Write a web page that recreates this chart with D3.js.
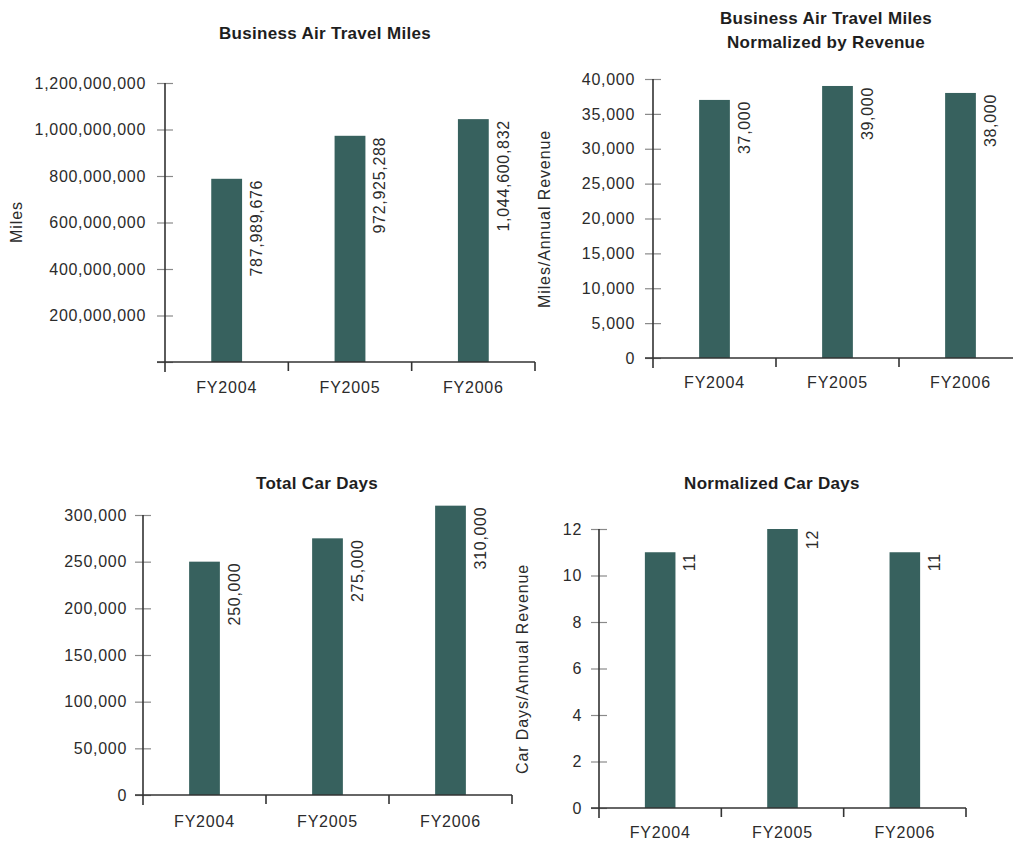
<!DOCTYPE html>
<html><head><meta charset="utf-8">
<script src="https://cdn.jsdelivr.net/npm/d3@7"></script>
<style>
body{margin:0;background:#fff;}
svg text{font-family:"Liberation Sans",Arial,Helvetica,sans-serif;fill:#2b2b2b;}
</style></head><body>
<svg id="chart" width="1013" height="841"></svg>
<script>
// ---- data ----
const categories = ["FY2004", "FY2005", "FY2006"];
const airMiles = [787989676, 972925288, 1044600832];
const airMilesPerRevenue = [37000, 39000, 38000];
const carDays = [250000, 275000, 310000];
const carDaysPerRevenue = [11, 12, 11];

const airMilesTicks = [0, 200000000, 400000000, 600000000, 800000000, 1000000000, 1200000000];
const airMilesPerRevenueTicks = [0, 5000, 10000, 15000, 20000, 25000, 30000, 35000, 40000];
const carDaysTicks = [0, 50000, 100000, 150000, 200000, 250000, 300000];
const carDaysPerRevenueTicks = [0, 2, 4, 6, 8, 10, 12];

const titleAirMiles = ["Business Air Travel Miles"];
const titleAirMilesPerRevenue = ["Business Air Travel Miles", "Normalized by Revenue"];
const titleCarDays = ["Total Car Days"];
const titleCarDaysPerRevenue = ["Normalized Car Days"];

const yTitleAirMiles = "Miles";
const yTitleAirMilesPerRevenue = "Miles/Annual Revenue";
const yTitleCarDays = "";
const yTitleCarDaysPerRevenue = "Car Days/Annual Revenue";

// ---- layout ----
const BAR = "#37615e";
const FS = "16px", LS = "0.7px";
const fmt = d3.format(",");
const svg = d3.select("#chart");

const panels = [
  {values: airMiles, ticks: airMilesTicks, title: titleAirMiles, yTitle: yTitleAirMiles,
   left: 165, right: 535, top: 83, bottom: 362, titleX: 325, titleY: [39], yTitleX: 22, yTitleY: 222,
   xLabelY: 393, pad: 19, hideZero: true},
  {values: airMilesPerRevenue, ticks: airMilesPerRevenueTicks, title: titleAirMilesPerRevenue, yTitle: yTitleAirMilesPerRevenue,
   left: 653, right: 1022, top: 79, bottom: 358, titleX: 826, titleY: [24, 48], yTitleX: 550, yTitleY: 219,
   xLabelY: 388, pad: 18, hideZero: false},
  {values: carDays, ticks: carDaysTicks, title: titleCarDays, yTitle: yTitleCarDays,
   left: 143, right: 512, top: 515, bottom: 795, titleX: 317, titleY: [489], yTitleX: 0, yTitleY: 0,
   xLabelY: 827, pad: 16, hideZero: false},
  {values: carDaysPerRevenue, ticks: carDaysPerRevenueTicks, title: titleCarDaysPerRevenue, yTitle: yTitleCarDaysPerRevenue,
   left: 599, right: 966, top: 529, bottom: 808, titleX: 772, titleY: [489], yTitleX: 528, yTitleY: 669,
   xLabelY: 838, pad: 17, hideZero: false}
];

panels.forEach(p => {
  const g = svg.append("g");
  const maxTick = p.ticks[p.ticks.length - 1];
  const y = d3.scaleLinear().domain([0, maxTick]).range([p.bottom, p.top]);
  const x = d3.scaleBand().domain(categories).range([p.left, p.right]).padding(0);
  const bw = x.bandwidth() * 0.25;

  // title
  p.title.forEach((t, i) => {
    g.append("text").attr("x", p.titleX).attr("y", p.titleY[i])
      .attr("text-anchor", "middle").style("font-size", "17px").style("font-weight", "bold")
      .style("letter-spacing", "0.3px").style("fill", "#1e1e1e").text(t);
  });

  // y title
  if (p.yTitle) {
    g.append("text").attr("transform", `translate(${p.yTitleX},${p.yTitleY}) rotate(-90)`)
      .attr("text-anchor", "middle").style("font-size", FS).style("letter-spacing", "0.9px")
      .text(p.yTitle);
  }

  // bars
  g.selectAll("rect.bar").data(p.values).join("rect").attr("class", "bar")
    .attr("x", (d, i) => x(categories[i]) + x.bandwidth() / 2 - bw / 2)
    .attr("width", bw)
    .attr("y", d => y(d))
    .attr("height", d => y(0) - y(d))
    .attr("fill", BAR);

  // value labels
  g.selectAll("text.val").data(p.values).join("text").attr("class", "val")
    .attr("transform", (d, i) => `translate(${x(categories[i]) + x.bandwidth() / 2 + bw / 2 + 20},${y(d) + 1}) rotate(-90)`)
    .attr("text-anchor", "end").style("font-size", FS).style("letter-spacing", LS)
    .text(d => fmt(d));

  // y axis
  const yAxis = d3.axisLeft(y).tickValues(p.ticks).tickSize(0).tickPadding(p.pad)
    .tickFormat(d => (p.hideZero && d === 0) ? "" : fmt(d));
  const ya = g.append("g").attr("transform", `translate(${p.left},0)`).call(yAxis);
  ya.select(".domain").remove();
  ya.selectAll(".tick text").style("font-size", FS).style("letter-spacing", LS)
    .attr("fill", "#2b2b2b").style("font-family", "'Liberation Sans',Arial,sans-serif");
  ya.selectAll(".tick").append("line").attr("x1", -8).attr("x2", 8)
    .attr("stroke", "#8a8a8a").attr("stroke-width", 1.2);
  g.append("line").attr("x1", p.left).attr("x2", p.left)
    .attr("y1", y(maxTick)).attr("y2", y(0) + 10).attr("stroke", "#333").attr("stroke-width", 1.6);

  // x axis
  const xAxis = d3.axisBottom(x).tickSize(0).tickPadding(0);
  const xa = g.append("g").attr("transform", `translate(0,${p.bottom})`).call(xAxis);
  xa.select(".domain").remove();
  xa.selectAll(".tick text").attr("y", p.xLabelY - p.bottom).attr("dy", 0)
    .style("font-size", FS).style("letter-spacing", "0.8px").attr("fill", "#2b2b2b")
    .style("font-family", "'Liberation Sans',Arial,sans-serif");
  g.append("line").attr("x1", p.left - 8).attr("x2", p.right)
    .attr("y1", y(0)).attr("y2", y(0)).attr("stroke", "#333").attr("stroke-width", 1.6);
  const edges = categories.map(c => x(c) + x.bandwidth()).filter(v => v <= 1013);
  g.selectAll("line.xt").data(edges).join("line").attr("class", "xt")
    .attr("x1", d => d).attr("x2", d => d).attr("y1", y(0)).attr("y2", y(0) + 9)
    .attr("stroke", "#333").attr("stroke-width", 1.6);
});
</script>
</body></html>
